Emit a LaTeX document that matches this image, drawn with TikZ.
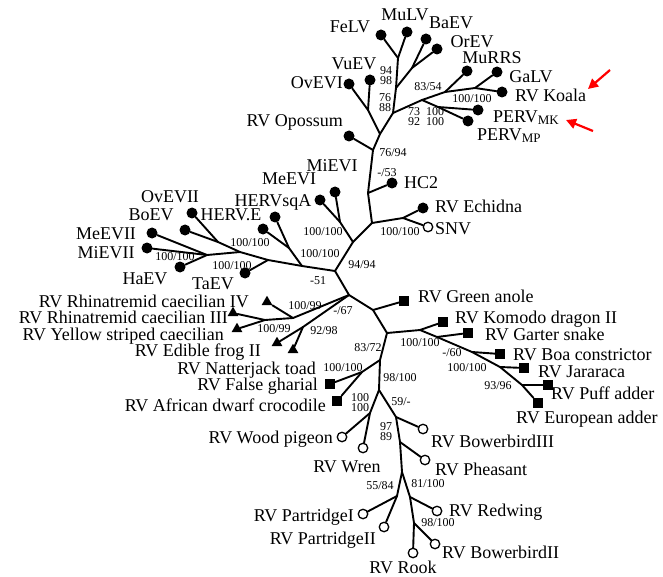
\documentclass[tikz,border=0pt]{standalone}
\usepackage{fontspec}
\setmainfont{Liberation Serif}
\usetikzlibrary{shapes.geometric,arrows.meta}
\begin{document}
\begin{tikzpicture}[x=1pt,y=-1pt,
  br/.style={line width=1.9pt, line cap=round, line join=round},
  fdot/.style={circle, fill=black, inner sep=0pt, minimum size=11pt},
  odot/.style={circle, draw=black, fill=white, line width=1.3pt, inner sep=0pt, minimum size=9.5pt},
  sqm/.style={rectangle, fill=black, inner sep=0pt, minimum size=10pt},
  trim/.style={regular polygon, regular polygon sides=3, fill=black, inner sep=0pt, minimum size=12.5pt},
  lab/.style={font=\fontsize{18}{18}\selectfont, inner sep=0pt, text height=12pt, text depth=0pt},
  bs/.style={font=\fontsize{12}{12}\selectfont, inner sep=0pt, text height=8pt, text depth=0pt},
  redarrow/.style={draw=red, line width=2.2pt, -{Triangle[length=10pt,width=10pt]}}
]
\useasboundingbox (0,0) rectangle (663,577);

% ---------- internal nodes ----------
\coordinate (N9) at (398,58);
\coordinate (Nbo) at (412,68);
\coordinate (N8) at (396,88);
\coordinate (Nov) at (368,110);
\coordinate (N2) at (393,113);
\coordinate (N4) at (422,100);
\coordinate (N5) at (445,92);
\coordinate (Ngk) at (475,88);
\coordinate (Nperv) at (438,107);
\coordinate (Ns) at (380,134);
\coordinate (Nop) at (373,150);
\coordinate (N6) at (368,193);
\coordinate (N7) at (372,223);
\coordinate (E1) at (403,218);
\coordinate (M2) at (353,242);
\coordinate (M1) at (340,222);
\coordinate (C0) at (335,271);
\coordinate (LB) at (302,266);
\coordinate (LA) at (289,248);
\coordinate (K4) at (268,260);
\coordinate (K3) at (240,252);
\coordinate (K2) at (218,242);
\coordinate (K1) at (207,255);
\coordinate (C1) at (349,295);
\coordinate (Arh) at (293,318);
\coordinate (Arhb) at (265,320);
\coordinate (Afr) at (303,327);
\coordinate (C2) at (373,310);
\coordinate (C3) at (387,333);
\coordinate (R1) at (420,330);
\coordinate (Sg) at (437,337);
\coordinate (Sb) at (472,352);
\coordinate (Sj) at (500,367);
\coordinate (Sp) at (522,385);
\coordinate (C4) at (380,360);
\coordinate (Kc) at (362,372);
\coordinate (C5) at (379,390);
\coordinate (B1) at (370,413);
\coordinate (B2) at (396,417);
\coordinate (B2b) at (400,442);
\coordinate (B3) at (402,472);
\coordinate (BP) at (397,496);
\coordinate (BR) at (410,497);
\coordinate (BRb) at (414,523);

% ---------- tip markers ----------
\node[fdot] (FeLV) at (381,35) {};
\node[fdot] (MuLV) at (407,32) {};
\node[fdot] (BaEV) at (426,39) {};
\node[fdot] (OrEV) at (437,49) {};
\node[fdot] (MuRRS) at (467,71) {};
\node[fdot] (GaLV) at (497,72) {};
\node[fdot] (Koala) at (502,92) {};
\node[fdot] (PERVMK) at (478,110) {};
\node[fdot] (PERVMP) at (468,121) {};
\node[fdot] (VuEV) at (370,80) {};
\node[fdot] (OvEVI) at (349,84) {};
\node[fdot] (Opossum) at (349,136) {};
\node[fdot] (HCtwo) at (392,183) {};
\node[fdot] (Echidna) at (423,208) {};
\node[odot] (SNV) at (428,227) {};
\node[fdot] (MiEVI) at (335,192) {};
\node[fdot] (MeEVI) at (320,200) {};
\node[fdot] (HERVsqA) at (275,217) {};
\node[fdot] (HERVE) at (263,229) {};
\node[fdot] (TaEV) at (245,273) {};
\node[fdot] (OvEVII) at (192,213) {};
\node[fdot] (BoEV) at (185,230) {};
\node[fdot] (MeEVII) at (152,233) {};
\node[fdot] (MiEVII) at (147,248) {};
\node[fdot] (HaEV) at (180,267) {};
\node[trim] (RhIV) at (267,302) {};
\node[trim] (RhIII) at (233,313) {};
\node[trim] (Yellow) at (237,329) {};
\node[trim] (Frog) at (277,343) {};
\node[trim] (Toad) at (293,350) {};
\node[sqm] (Anole) at (404,301) {};
\node[sqm] (Komodo) at (443,322) {};
\node[sqm] (Garter) at (468,333) {};
\node[sqm] (Boa) at (500,354) {};
\node[sqm] (Jara) at (524,368) {};
\node[sqm] (Puff) at (548,385) {};
\node[sqm] (Euro) at (538,403) {};
\node[sqm] (Gharial) at (330,384) {};
\node[sqm] (Dwarf) at (337,401) {};
\node[odot] (Pigeon) at (342,437) {};
\node[odot] (Wren) at (363,448) {};
\node[odot] (BowIII) at (423,429) {};
\node[odot] (Pheasant) at (425,460) {};
\node[odot] (PartI) at (363,514) {};
\node[odot] (PartII) at (384,527) {};
\node[odot] (Redwing) at (437,511) {};
\node[odot] (Rook) at (413,553) {};
\node[odot] (BowII) at (435,544) {};

% ---------- branches ----------
\draw[br] (C0) -- (M2) -- (N7) -- (N6) -- (Nop) -- (Ns) -- (N2) -- (N8) -- (N9);
\draw[br] (N9) -- (FeLV);
\draw[br] (N9) -- (MuLV);
\draw[br] (N8) -- (Nbo);
\draw[br] (Nbo) -- (BaEV);
\draw[br] (Nbo) -- (OrEV);
\draw[br] (Ns) -- (Nov);
\draw[br] (Nov) -- (OvEVI);
\draw[br] (Nov) -- (VuEV);
\draw[br] (N2) -- (N4);
\draw[br] (N4) -- (N5);
\draw[br] (N5) -- (MuRRS);
\draw[br] (N5) -- (Ngk);
\draw[br] (Ngk) -- (GaLV);
\draw[br] (Ngk) -- (Koala);
\draw[br] (N4) -- (Nperv);
\draw[br] (Nperv) -- (PERVMK);
\draw[br] (Nperv) -- (PERVMP);
\draw[br] (Nop) -- (Opossum);
\draw[br] (N6) -- (HCtwo);
\draw[br] (N7) -- (E1);
\draw[br] (E1) -- (Echidna);
\draw[br] (E1) -- (SNV);
\draw[br] (M2) -- (M1);
\draw[br] (M1) -- (MiEVI);
\draw[br] (M1) -- (MeEVI);
\draw[br] (C0) -- (LB);
\draw[br] (LB) -- (LA);
\draw[br] (LA) -- (HERVsqA);
\draw[br] (LA) -- (HERVE);
\draw[br] (LB) -- (K4);
\draw[br] (K4) -- (TaEV);
\draw[br] (K4) -- (K3);
\draw[br] (K3) -- (K2);
\draw[br] (K2) -- (OvEVII);
\draw[br] (K2) -- (BoEV);
\draw[br] (K3) -- (K1);
\draw[br] (K1) -- (MeEVII);
\draw[br] (K1) -- (MiEVII);
\draw[br] (K1) -- (HaEV);
\draw[br] (C0) -- (C1) -- (C2) -- (C3) -- (C4) -- (C5);
\draw[br] (C1) -- (Arh);
\draw[br] (Arh) -- (RhIV);
\draw[br] (Arh) -- (Arhb);
\draw[br] (Arhb) -- (RhIII);
\draw[br] (Arhb) -- (Yellow);
\draw[br] (C1) -- (Afr);
\draw[br] (Afr) -- (Frog);
\draw[br] (Afr) -- (Toad);
\draw[br] (C2) -- (Anole);
\draw[br] (C3) -- (R1);
\draw[br] (R1) -- (Komodo);
\draw[br] (R1) -- (Sg) -- (Sb) -- (Sj) -- (Sp);
\draw[br] (Sg) -- (Garter);
\draw[br] (Sb) -- (Boa);
\draw[br] (Sj) -- (Jara);
\draw[br] (Sp) -- (Puff);
\draw[br] (Sp) -- (Euro);
\draw[br] (C4) -- (Kc);
\draw[br] (Kc) -- (Gharial);
\draw[br] (Kc) -- (Dwarf);
\draw[br] (C5) -- (B1);
\draw[br] (B1) -- (Pigeon);
\draw[br] (B1) -- (Wren);
\draw[br] (C5) -- (B2) -- (B2b) -- (B3);
\draw[br] (B2) -- (BowIII);
\draw[br] (B2b) -- (Pheasant);
\draw[br] (B3) -- (BP);
\draw[br] (BP) -- (PartI);
\draw[br] (BP) -- (PartII);
\draw[br] (B3) -- (BR);
\draw[br] (BR) -- (Redwing);
\draw[br] (BR) -- (BRb);
\draw[br] (BRb) -- (Rook);
\draw[br] (BRb) -- (BowII);

% ---------- tip labels ----------
\node[lab] (FeLVl) at (350,27) {FeLV};
\node[lab] (MuLVl) at (405,15) {MuLV};
\node[lab] (BaEVl) at (451,23) {BaEV};
\node[lab] (OrEVl) at (472,42) {OrEV};
\node[lab] (MuRRSl) at (492,58) {MuRRS};
\node[lab] (GaLVl) at (531,77) {GaLV};
\node[lab, anchor=west] (Koalal) at (515,96) {RV Koala};
\node[lab, anchor=west] (PERVMKl) at (493,117) {PERV\raisebox{-1.5pt}{\fontsize{13}{13}\selectfont MK}};
\node[lab, anchor=west] (PERVMPl) at (477,135) {PERV\raisebox{-1.5pt}{\fontsize{13}{13}\selectfont MP}};
\node[lab] (VuEVl) at (354,64) {VuEV};
\node[lab, anchor=east] (OvEVIl) at (343,83) {OvEVI};
\node[lab, anchor=east] (Opossuml) at (343,121) {RV Opossum};
\node[lab] (MiEVIl) at (332,166) {MiEVI};
\node[lab] (MeEVIl) at (289,179) {MeEVI};
\node[lab] (HERVsqAl) at (273,201) {HERVsqA};
\node[lab] (HERVEl) at (231,215) {HERV.E};
\node[lab, anchor=west] (HCtwol) at (404,183) {HC2};
\node[lab, anchor=west] (Echidnal) at (435,207) {RV Echidna};
\node[lab, anchor=west] (SNVl) at (435,228) {SNV};
\node[lab] (OvEVIIl) at (170,197) {OvEVII};
\node[lab] (BoEVl) at (151,215) {BoEV};
\node[lab] (MeEVIIl) at (106,234) {MeEVII};
\node[lab] (MiEVIIl) at (106,252) {MiEVII};
\node[lab] (HaEVl) at (145,278) {HaEV};
\node[lab] (TaEVl) at (213,283) {TaEV};
\node[lab, anchor=east] (RhIVl) at (249,301) {RV Rhinatremid caecilian IV};
\node[lab, anchor=east] (RhIIIl) at (228,317) {RV Rhinatremid caecilian III};
\node[lab, anchor=east] (Yellowl) at (224,334) {RV Yellow striped caecilian};
\node[lab, anchor=east] (Frogl) at (261,350) {RV Edible frog II};
\node[lab, anchor=east] (Toadl) at (316,368) {RV Natterjack toad};
\node[lab, anchor=west] (Anolel) at (418,296) {RV Green anole};
\node[lab, anchor=west] (Komodol) at (455,317) {RV Komodo dragon II};
\node[lab, anchor=west] (Garterl) at (485,334) {RV Garter snake};
\node[lab, anchor=west] (Boal) at (513,354) {RV Boa constrictor};
\node[lab, anchor=west] (Jaral) at (538,371) {RV Jararaca};
\node[lab, anchor=west] (Puffl) at (551,393) {RV Puff adder};
\node[lab, anchor=west] (Eurol) at (516,417) {RV European adder};
\node[lab, anchor=east] (Gharialb) at (318,384) {RV False gharial};
\node[lab, anchor=east] (Dwarfl) at (326,405) {RV African dwarf crocodile};
\node[lab, anchor=east] (Pigeonl) at (333,437) {RV Wood pigeon};
\node[lab] (Wrenl) at (347,466) {RV Wren};
\node[lab, anchor=west] (BowIIIl) at (431,441) {RV BowerbirdIII};
\node[lab, anchor=west] (Pheasantl) at (435,469) {RV Pheasant};
\node[lab, anchor=east] (PartIl) at (354,515) {RV PartridgeI};
\node[lab, anchor=east] (PartIIl) at (376,538) {RV PartridgeII};
\node[lab, anchor=west] (Redwingl) at (449,510) {RV Redwing};
\node[lab] (Rookl) at (403,567) {RV Rook};
\node[lab, anchor=west] (BowIIl) at (442,552) {RV BowerbirdII};

% ---------- support values ----------
\node[bs] (s1a) at (386,71) {94};
\node[bs] (s1b) at (386,81) {98};
\node[bs] (s2a) at (385,98) {76};
\node[bs] (s2b) at (385,108) {88};
\node[bs] (s3a) at (414,112) {73};
\node[bs] (s3b) at (414,122) {92};
\node[bs] (s4a) at (435,112) {100};
\node[bs] (s4b) at (435,122) {100};
\node[bs] (s5) at (428,87) {83/54};
\node[bs] (s6) at (472,99) {100/100};
\node[bs] (s7) at (393,153) {76/94};
\node[bs] (s8) at (387,173) {-/53};
\node[bs] (s9) at (400,232) {100/100};
\node[bs] (s10) at (323,232) {100/100};
\node[bs] (s11) at (320,253) {100/100};
\node[bs] (s12) at (250,242) {100/100};
\node[bs] (s13) at (232,265) {100/100};
\node[bs] (s14) at (175,256) {100/100};
\node[bs] (s15) at (362,264) {94/94};
\node[bs] (s16) at (318,280) {-51};
\node[bs] (s17) at (305,305) {100/99};
\node[bs] (s18) at (274,328) {100/99};
\node[bs] (s19) at (324,330) {92/98};
\node[bs] (s20) at (343,310) {-/67};
\node[bs] (s21) at (368,347) {83/72};
\node[bs] (s22) at (420,342) {100/100};
\node[bs] (s23) at (452,352) {-/60};
\node[bs] (s24) at (467,367) {100/100};
\node[bs] (s25) at (498,385) {93/96};
\node[bs] (s26) at (343,367) {100/100};
\node[bs] (s27) at (400,377) {98/100};
\node[bs] (s28) at (401,401) {59/-};
\node[bs] (s29a) at (360,397) {100};
\node[bs] (s29b) at (360,407) {100};
\node[bs] (s30a) at (386,426) {97};
\node[bs] (s30b) at (386,436) {89};
\node[bs] (s31) at (380,485) {55/84};
\node[bs] (s32) at (428,483) {81/100};
\node[bs] (s33) at (438,522) {98/100};

% ---------- red arrows ----------
\coordinate (a1s) at (610,70);
\coordinate (a1e) at (588,89);
\coordinate (a2s) at (593,131);
\coordinate (a2e) at (566,120);
\draw[redarrow] (a1s) -- (a1e);
\draw[redarrow] (a2s) -- (a2e);
\end{tikzpicture}
\end{document}
